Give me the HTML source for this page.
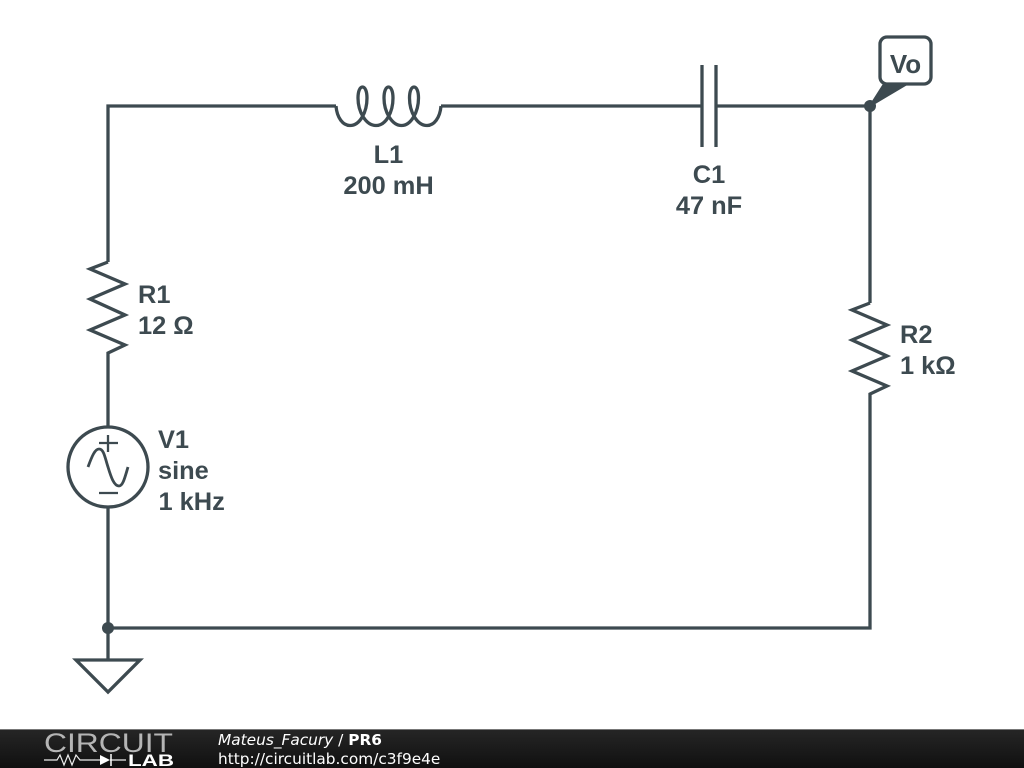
<!DOCTYPE html>
<html>
<head>
<meta charset="utf-8">
<style>
html,body{margin:0;padding:0;background:#fff;width:1024px;height:768px;overflow:hidden}
svg{display:block}
.l{font-family:"Liberation Sans",sans-serif;font-weight:bold;font-size:25.4px;fill:#3d4a50}
.f{font-family:"DejaVu Sans",sans-serif;font-size:15.35px;fill:#fff}
</style>
</head>
<body>
<svg width="1024" height="768" viewBox="0 0 1024 768" xmlns="http://www.w3.org/2000/svg">
<defs>
<linearGradient id="g" x1="0" y1="0" x2="0" y2="1"><stop offset="0" stop-color="#262626"/><stop offset="1" stop-color="#101010"/></linearGradient>
</defs>
<g fill="none" stroke="#3d4a50" stroke-width="3.3" stroke-linejoin="miter">
<path d="M108 262V106H336"/>
<path d="M336 106C337 118 343 125.500 350 125.500C360 125.500 367 112 367 98C367 91 365 87 362.500 87C360 87 358 91 358 98C358 112 366 125.500 376 125.500C386 125.500 393 112 393 98C393 91 391 87 388.500 87C386 87 384 91 384 98C384 112 392 125.500 401.500 125.500C411 125.500 418.500 112 418.500 98C418.500 91 416.500 87 414 87C411.500 87 409.500 91 409.500 98C409.500 112 417 125.500 427 125.500C434 125.500 440 118 441 106"/>
<path d="M441 106H702M702 65V147M716 65V147M716 106H870V303"/>
<path d="M108 262L90 269L125 284L90 299L125 315L90 330L125 345L108 353V427"/>
<path d="M870 303L852 310L887 325L852 340L887 356L852 371L887 386L870 394V628H108"/>
<circle cx="108" cy="467" r="40"/>
<path d="M99 443H118M108 435V452M99 493H118" stroke-width="2.300"/>
<path d="M88 467C92 456 95 449 99 449C104 449 105 458 108 467C111 477 114 486 119 486C123 486 125 477 128 467" stroke-width="2.800"/>
<path d="M108 507V660"/>
<path d="M76 660H140L108 692Z"/>
</g>
<circle cx="870" cy="106" r="6" fill="#3d4a50"/>
<circle cx="108" cy="628" r="6" fill="#3d4a50"/>
<path d="M870 106L884 84H907Z" fill="#3d4a50" stroke="#3d4a50" stroke-width="2" stroke-linejoin="round"/>
<rect x="880" y="37" width="51" height="47" rx="7" fill="#fff" stroke="#3d4a50" stroke-width="3.300"/>
<text class="l" x="905.500" y="73" text-anchor="middle" style="font-size:26px">Vo</text>
<text class="l" x="388.500" y="163" text-anchor="middle">L1</text>
<text class="l" x="388.500" y="194" text-anchor="middle">200 mH</text>
<text class="l" x="709" y="183" text-anchor="middle">C1</text>
<text class="l" x="709" y="214" text-anchor="middle">47 nF</text>
<text class="l" x="138" y="303">R1</text>
<text class="l" x="138" y="334">12 Ω</text>
<text class="l" x="900" y="343">R2</text>
<text class="l" x="900" y="374">1 kΩ</text>
<text class="l" x="158" y="448">V1</text>
<text class="l" x="158" y="479">sine</text>
<text class="l" x="158.500" y="510">1 kHz</text>
<rect x="0" y="729" width="1024" height="39" fill="url(#g)"/>
<rect x="0" y="729" width="1024" height="1" fill="#777"/>
<text x="44" y="752" font-family="Liberation Sans,sans-serif" font-size="26.500" fill="#b5b5b5" textLength="129" lengthAdjust="spacingAndGlyphs">CIRCUIT</text>
<text x="128" y="766" font-family="Liberation Sans,sans-serif" font-weight="bold" font-size="17" fill="#fff" textLength="46" lengthAdjust="spacingAndGlyphs">LAB</text>
<path d="M44 760H57L60 755L64 765L68 755L72 765L76 755L80 760H100M110 760H126" fill="none" stroke="#eee" stroke-width="1.200"/>
<path d="M100 755L110 760L100 765Z" fill="#fff"/>
<path d="M111 754V766" stroke="#fff" stroke-width="1.500"/>
<text class="f" x="218" y="745"><tspan font-style="italic">Mateus_Facury</tspan> / <tspan font-weight="bold">PR6</tspan></text>
<text class="f" x="218" y="764">http://circuitlab.com/c3f9e4e</text>
</svg>
</body>
</html>
